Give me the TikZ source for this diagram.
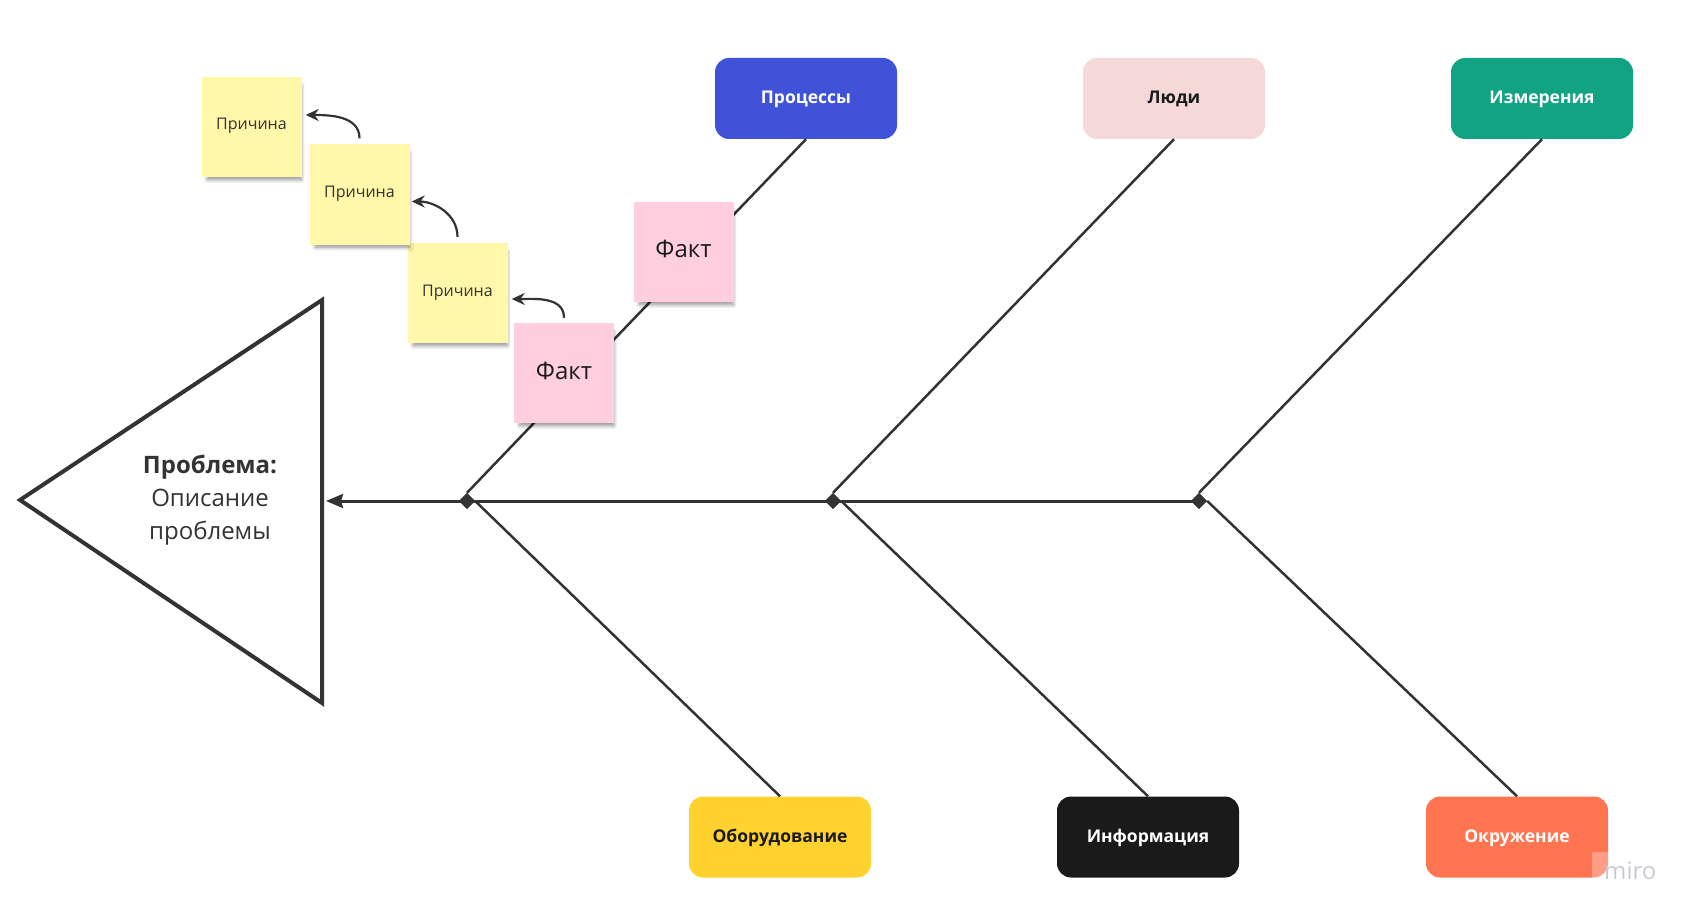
\documentclass[tikz,border=0pt]{standalone}
\usepackage{fontspec}
\setmainfont{Open Sans}
\usetikzlibrary{arrows.meta,shadows.blur,shapes.geometric}
\definecolor{procblue}{HTML}{4053D8}
\definecolor{peoplepink}{HTML}{F5D9D9}
\definecolor{measteal}{HTML}{12A385}
\definecolor{equipyellow}{HTML}{FFD22F}
\definecolor{infoblack}{HTML}{1A1A1A}
\definecolor{envorange}{HTML}{FF7551}
\definecolor{causeyellow}{HTML}{FFF7AA}
\definecolor{factpink}{HTML}{FFCFE0}
\definecolor{linegray}{HTML}{333333}
\definecolor{miroGray}{HTML}{C9C9D2}
\begin{document}
\begin{tikzpicture}[x=1pt,y=-1pt,
    cat/.style={rectangle, rounded corners=14pt, minimum width=182pt, minimum height=81pt, inner sep=0pt, text height=12.5pt, text depth=1.5pt, font=\fontsize{17.5}{20}\selectfont\bfseries, text=white},
    sticky/.style={rectangle, minimum width=100pt, minimum height=100pt, inner sep=0pt, blur shadow={shadow xshift=3pt, shadow yshift=-6pt, shadow scale=0.94, shadow blur radius=4pt, shadow blur steps=10, shadow opacity=45}},
    cause/.style={sticky, fill=causeyellow, text height=11.5pt, text depth=5.5pt, font=\fontsize{16}{18}\selectfont, text=linegray},
    fact/.style={sticky, fill=factpink, text height=17pt, text depth=5pt, font=\fontsize{24}{28}\selectfont, text=infoblack},
    joint/.style={diamond, fill=linegray, minimum width=16pt, minimum height=16pt, inner sep=0pt},
    bone/.style={draw=linegray, line width=2.5pt},
    pull/.style={draw=linegray, line width=2.2pt, -{Stealth[length=13pt,width=12pt]}}]
    \useasboundingbox (0,0) rectangle (1697,920);

    % head of the fish
    \coordinate (nose) at (20,500);
    \coordinate (htop) at (322,300);
    \coordinate (hbot) at (322,703);
    \coordinate (tip) at (326,501);
    \draw[linegray, line width=4pt, line join=miter] (nose) -- (htop) -- (hbot) -- cycle;
    \node[align=center, font=\fontsize{24}{33}\selectfont, text=linegray] (problem) at (210,500) {\textbf{Проблема:}\\Описание\\проблемы};

    % categories
    \node[cat, fill=procblue] (proc) at (806,98.5) {Процессы};
    \node[cat, fill=peoplepink, text=infoblack] (people) at (1174,98.5) {Люди};
    \node[cat, fill=measteal] (meas) at (1542,98.5) {Измерения};
    \node[cat, fill=equipyellow, text=infoblack] (equip) at (780,837) {Оборудование};
    \node[cat, fill=infoblack] (info) at (1148,837) {Информация};
    \node[cat, fill=envorange] (env) at (1517,837) {Окружение};

    % joints on the spine
    \node[joint] (d1) at (467,501) {};
    \node[joint] (d2) at (833,501) {};
    \node[joint] (d3) at (1199,501) {};

    \draw[bone] (proc.south) -- (d1.north);
    \draw[bone] (people.south) -- (d2.north);
    \draw[bone] (meas.south) -- (d3.north);
    \draw[bone] (d1.east) -- (equip.north);
    \draw[bone] (d2.east) -- (info.north);
    \draw[bone] (d3.east) -- (env.north);
    \draw[linegray, line width=3pt, -{Stealth[length=17pt,width=14pt,inset=2pt]}] (d3.center) -- (tip);
    \node[joint] at (d1) {};
    \node[joint] at (d2) {};
    \node[joint] at (d3) {};

    % stickies
    \node[fact] (f2) at (683.5,252) {Факт};
    \node[fact] (f1) at (564,373) {Факт};
    \node[cause] (c3) at (457.5,293) {Причина};
    \node[cause] (c2) at (359.5,194.5) {Причина};
    \node[cause] (c1) at (251.5,127) {Причина};

    \draw[pull] ([yshift=5pt]f1.north) to[out=90, in=0] ([xshift=4pt,yshift=-6pt]c3.east);
    \draw[pull] ([yshift=6pt]c3.north) to[out=90, in=0] ([xshift=2pt,yshift=-7pt]c2.east);
    \draw[pull] ([yshift=6pt]c2.north) to[out=90, in=0] ([xshift=4pt,yshift=12pt]c1.east);

    % watermark
    \fill[white, opacity=0.3] (1592,852) rectangle (1609,878);
    \node[anchor=base west, inner sep=0pt, font=\fontsize{24}{28}\selectfont, text=miroGray] (miro) at (1604,879) {miro};
\end{tikzpicture}
\end{document}
